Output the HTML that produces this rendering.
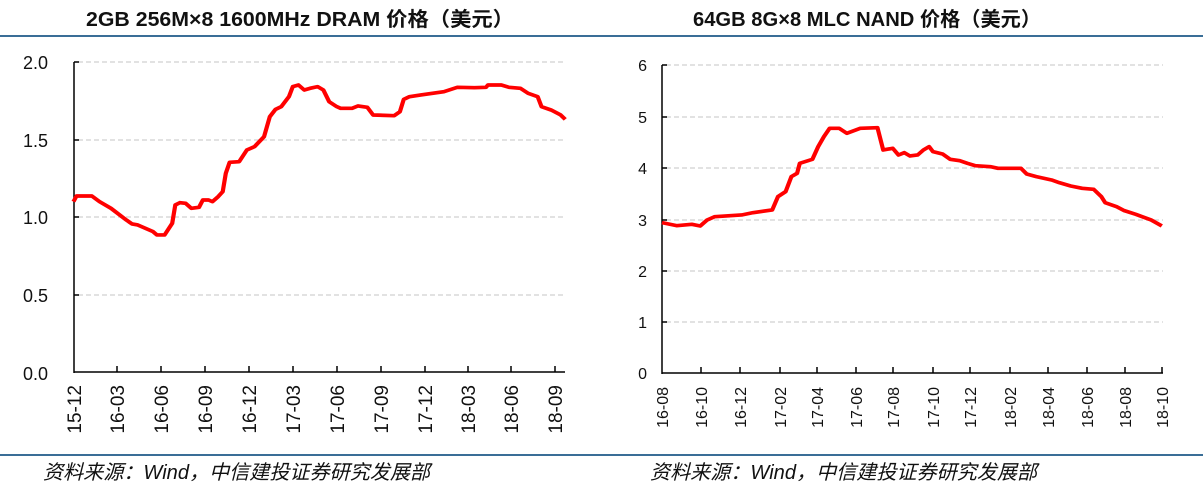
<!DOCTYPE html>
<html><head><meta charset="utf-8"><style>
body{margin:0;background:#fff;}
svg{display:block;}
</style></head><body>
<svg width="1203" height="488" xmlns="http://www.w3.org/2000/svg" font-family="Liberation Sans, sans-serif">
<rect width="1203" height="488" fill="#fff"/>
<g font-family="Liberation Sans, 'Noto Sans CJK SC', sans-serif" font-weight="bold" font-size="20" fill="#111" text-anchor="middle">
<text x="300" y="26" textLength="428" lengthAdjust="spacingAndGlyphs">2GB 256M×8 1600MHz DRAM 价格（美元）</text>
<text x="867" y="26" textLength="348" lengthAdjust="spacingAndGlyphs">64GB 8G×8 MLC NAND 价格（美元）</text>
</g>
<rect x="0" y="35" width="1203" height="2" fill="#3a6e97"/>
<rect x="0" y="454" width="1203" height="2" fill="#3a6e97"/>
<g font-family="Liberation Sans, 'Noto Sans CJK SC', sans-serif" font-style="italic" font-size="20" fill="#111">
<text x="43" y="479" textLength="387" lengthAdjust="spacingAndGlyphs">资料来源：Wind，中信建投证券研究发展部</text>
<text x="650" y="479" textLength="387" lengthAdjust="spacingAndGlyphs">资料来源：Wind，中信建投证券研究发展部</text>
</g>
<!-- left chart -->
<g stroke="#d9d9d9" stroke-width="1.5" stroke-dasharray="5,3">
<line x1="78" y1="62" x2="565" y2="62"/><line x1="78" y1="140" x2="565" y2="140"/>
<line x1="78" y1="217" x2="565" y2="217"/><line x1="78" y1="295" x2="565" y2="295"/>
</g>
<g stroke="#000" stroke-width="1.5" fill="none">
<line x1="74" y1="62" x2="74" y2="373"/><line x1="74" y1="372" x2="565" y2="372"/>
<line x1="74" y1="62" x2="79" y2="62"/><line x1="74" y1="140" x2="79" y2="140"/><line x1="74" y1="217" x2="79" y2="217"/><line x1="74" y1="295" x2="79" y2="295"/>
<path d="M117 372v-6M161 372v-6M205 372v-6M249 372v-6M293 372v-6M337 372v-6M381 372v-6M425 372v-6M468 372v-6M511 372v-6M555 372v-6"/>
</g>
<g font-size="18" fill="#111" text-anchor="end">
<text x="48" y="69">2.0</text><text x="48" y="147">1.5</text><text x="48" y="224">1.0</text><text x="48" y="302">0.5</text><text x="48" y="380">0.0</text>
</g>
<g font-size="19" fill="#111" text-anchor="end">
<text transform="translate(81,385) rotate(-90)">15-12</text>
<text transform="translate(124,385) rotate(-90)">16-03</text>
<text transform="translate(168,385) rotate(-90)">16-06</text>
<text transform="translate(212,385) rotate(-90)">16-09</text>
<text transform="translate(256,385) rotate(-90)">16-12</text>
<text transform="translate(300,385) rotate(-90)">17-03</text>
<text transform="translate(344,385) rotate(-90)">17-06</text>
<text transform="translate(388,385) rotate(-90)">17-09</text>
<text transform="translate(432,385) rotate(-90)">17-12</text>
<text transform="translate(475,385) rotate(-90)">18-03</text>
<text transform="translate(518,385) rotate(-90)">18-06</text>
<text transform="translate(562,385) rotate(-90)">18-09</text>
</g>
<polyline transform="scale(0.3827,0.3333)" fill="none" stroke="#f00" stroke-width="11" stroke-linejoin="round" points="192,605 200,588 240,588 260,605 290,625 330,660 345,672 360,675 400,695 410,705 430,705 450,670 458,615 470,608 485,610 500,625 520,622 530,600 545,600 555,605 570,590 582,575 590,520 600,487 625,485 645,450 665,440 690,410 705,350 720,328 735,320 755,290 765,260 780,255 795,270 810,265 830,260 845,270 860,305 880,320 890,325 920,325 935,318 960,322 975,345 1030,347 1045,335 1055,298 1070,290 1100,285 1130,280 1160,275 1195,262 1240,263 1270,262 1275,255 1310,255 1330,262 1360,265 1380,280 1405,290 1415,320 1440,330 1465,345 1477,358"/>
<!-- right chart -->
<g stroke="#d9d9d9" stroke-width="1.5" stroke-dasharray="5,3">
<line x1="666" y1="65" x2="1163" y2="65"/><line x1="666" y1="117" x2="1163" y2="117"/>
<line x1="666" y1="168" x2="1163" y2="168"/><line x1="666" y1="220" x2="1163" y2="220"/>
<line x1="666" y1="271" x2="1163" y2="271"/><line x1="666" y1="322" x2="1163" y2="322"/>
</g>
<g stroke="#000" stroke-width="1.5" fill="none">
<line x1="662" y1="65" x2="662" y2="374"/><line x1="662" y1="373" x2="1163" y2="373"/>
<path d="M662 65h5M662 117h5M662 168h5M662 220h5M662 271h5M662 322h5"/>
<path d="M701 373v-6M740 373v-6M780 373v-6M817 373v-6M856 373v-6M893 373v-6M933 373v-6M970 373v-6M1010 373v-6M1048 373v-6M1087 373v-6M1125 373v-6M1162 373v-6"/>
</g>
<g font-size="16" fill="#111" text-anchor="end">
<text x="647" y="71">6</text><text x="647" y="123">5</text><text x="647" y="174">4</text><text x="647" y="226">3</text><text x="647" y="277">2</text><text x="647" y="328">1</text><text x="647" y="379">0</text>
</g>
<g font-size="16" fill="#111" text-anchor="end">
<text transform="translate(668,387) rotate(-90)">16-08</text>
<text transform="translate(707,387) rotate(-90)">16-10</text>
<text transform="translate(746,387) rotate(-90)">16-12</text>
<text transform="translate(786,387) rotate(-90)">17-02</text>
<text transform="translate(823,387) rotate(-90)">17-04</text>
<text transform="translate(862,387) rotate(-90)">17-06</text>
<text transform="translate(899,387) rotate(-90)">17-08</text>
<text transform="translate(939,387) rotate(-90)">17-10</text>
<text transform="translate(976,387) rotate(-90)">17-12</text>
<text transform="translate(1016,387) rotate(-90)">18-02</text>
<text transform="translate(1054,387) rotate(-90)">18-04</text>
<text transform="translate(1093,387) rotate(-90)">18-06</text>
<text transform="translate(1131,387) rotate(-90)">18-08</text>
<text transform="translate(1168,387) rotate(-90)">18-10</text>
</g>
<polyline transform="translate(600,0) scale(0.3827,0.3333)" fill="none" stroke="#f00" stroke-width="11" stroke-linejoin="round" points="162,668 200,677 240,673 262,678 280,660 300,650 330,648 370,645 400,638 450,630 465,590 485,575 500,530 515,520 522,490 555,478 570,440 585,410 600,385 625,385 645,400 680,385 725,383 740,450 765,445 780,465 795,458 810,468 830,465 845,450 860,440 870,455 895,462 915,478 940,482 960,490 980,497 1020,500 1040,505 1100,505 1115,522 1140,530 1180,540 1200,548 1230,558 1260,565 1290,568 1310,590 1320,608 1350,620 1370,632 1400,643 1440,660 1468,678"/>
</svg>
</body></html>
